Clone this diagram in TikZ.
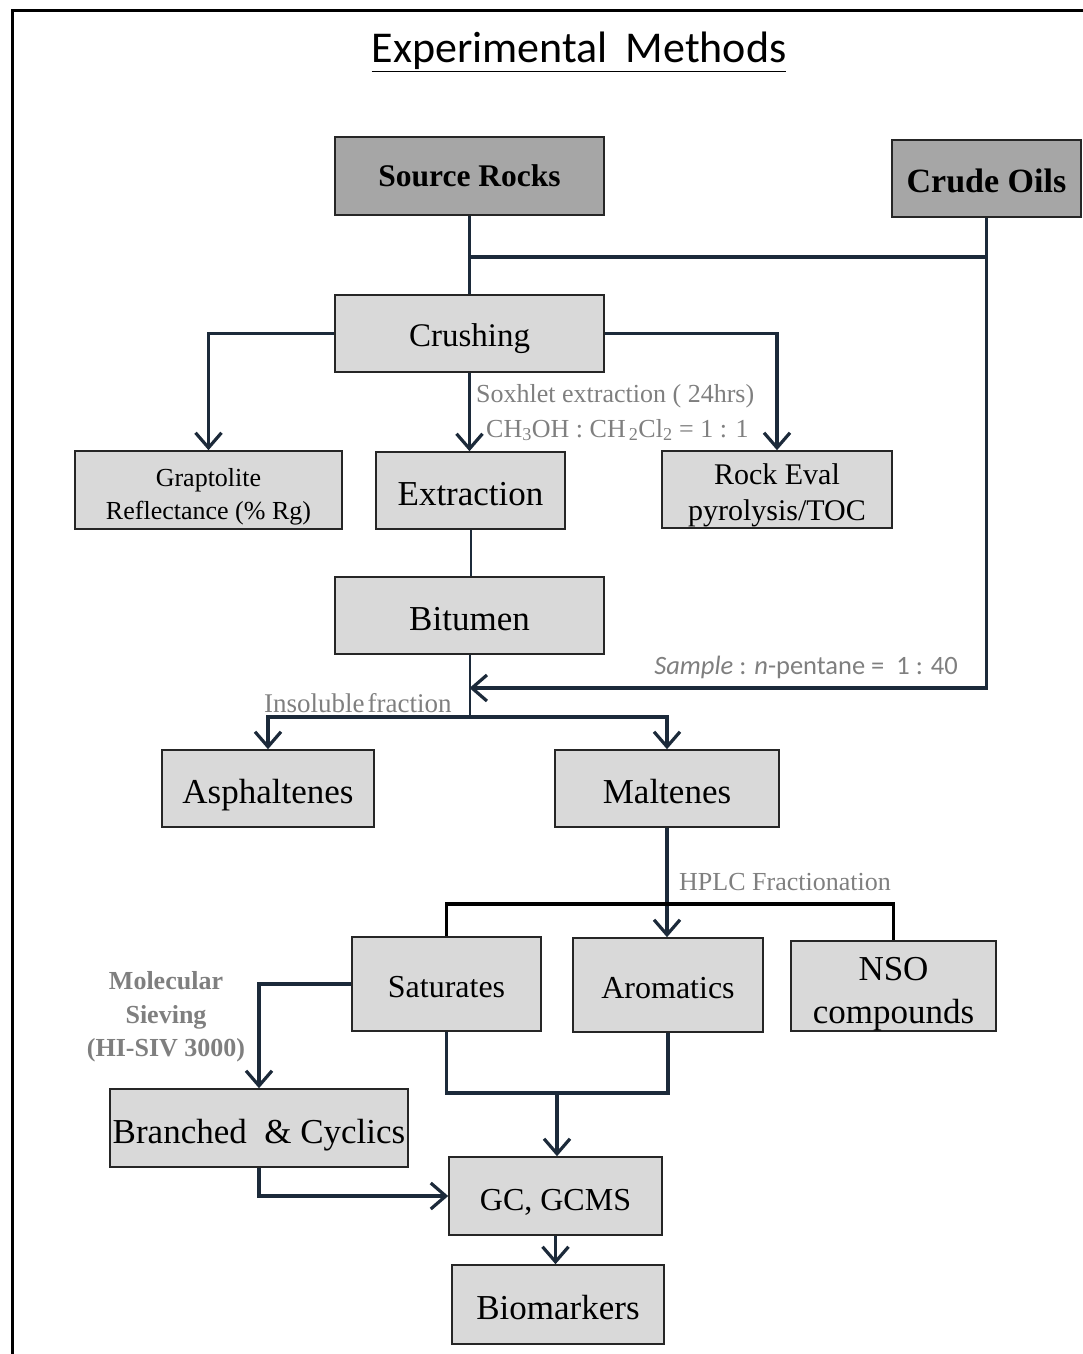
\documentclass[tikz,border=0pt]{standalone}
\usepackage{fontspec}
\setmainfont{Liberation Serif}
\newfontfamily\calibri{Carlito}
\usepackage{tikz}
\usetikzlibrary{arrows.meta}

\definecolor{arrowblue}{HTML}{1C2A3A}
\definecolor{darkbox}{HTML}{A6A6A6}
\definecolor{lightbox}{HTML}{D9D9D9}
\definecolor{notegray}{HTML}{7F7F7F}

% lower a multi-line label inside its box
\newcommand{\lowered}[2]{\raisebox{-#1}[\height][\depth]{\begin{tabular}{@{}c@{}}#2\end{tabular}}}

\begin{document}
\begin{tikzpicture}[x=1pt, y=-1pt]
\tikzstyle{box}=[rectangle, draw=black!85, line width=1.6pt, fill=lightbox, inner sep=2pt, text height=30pt, text depth=0pt, font=\fontsize{35}{40}\selectfont]
\tikzstyle{smallbox}=[box, text height=27pt, font=\fontsize{32}{40}\selectfont]
\tikzstyle{twoline}=[rectangle, draw=black!85, line width=1.6pt, fill=lightbox, inner sep=2pt]
\tikzstyle{source}=[box, fill=darkbox, text height=21pt, font=\fontsize{31.5}{36}\selectfont\bfseries]
\tikzstyle{connect}=[-{Straight Barb[length=15pt, width=26pt]}, line width=3.2pt, draw=arrowblue]
\tikzstyle{link}=[line width=3.2pt, draw=arrowblue]
\tikzstyle{note}=[text=notegray, inner sep=0pt, font=\fontsize{26}{33}\selectfont]
\useasboundingbox (0,0) rectangle (1083,1354);
\draw[line width=3pt] (12,1354) -- (12,11) -- (1083,11);
\node[font=\calibri\fontsize{44}{50}\selectfont] (Title) at (579,52) {\underline{Experimental\hspace{18pt}Methods}};
% source boxes
\node[source, minimum width=269, minimum height=78] (SourceRocks) at (469.5,176) {Source Rocks};
\node[source, minimum width=189, minimum height=77, text height=27.5pt, font=\fontsize{34}{40}\selectfont\bfseries] (CrudeOils) at (986.5,178.5) {Crude Oils};
% processing boxes
\node[box, minimum width=269, minimum height=77, text height=26pt, font=\fontsize{33}{40}\selectfont] (Crushing) at (469.5,333.5) {Crushing};
\node[twoline, minimum width=267, minimum height=78, font=\fontsize{26}{33}\selectfont] (Graptolite) at (208.5,490) {\lowered{6pt}{Graptolite\\Reflectance (\% Rg)}};
\node[box, minimum width=189, minimum height=77] (Extraction) at (470.5,490.5) {Extraction};
\node[twoline, minimum width=230, minimum height=77, font=\fontsize{30}{36}\selectfont] (RockEval) at (777,489.5) {\lowered{6pt}{Rock Eval\\pyrolysis/TOC}};
\node[box, minimum width=269, minimum height=77] (Bitumen) at (469.5,615.5) {Bitumen};
\node[box, minimum width=212, minimum height=77] (Asphaltenes) at (268,788.5) {Asphaltenes};
\node[box, minimum width=224, minimum height=77] (Maltenes) at (667,788.5) {Maltenes};
\node[smallbox, minimum width=189, minimum height=94] (Saturates) at (446.5,984) {Saturates};
\node[smallbox, minimum width=190, minimum height=94] (Aromatics) at (668,985) {Aromatics};
\node[twoline, minimum width=205, minimum height=90, font=\fontsize{35}{43}\selectfont] (NSO) at (893.5,986) {\lowered{7pt}{NSO\\compounds}};
\node[box, minimum width=298, minimum height=78] (Branched) at (259,1128) {Branched \ \& Cyclics};
\node[smallbox, minimum width=213, minimum height=78, text height=28pt] (GCMS) at (555.5,1196) {GC, GCMS};
\node[box, minimum width=212, minimum height=79] (Biomarkers) at (558,1304.5) {Biomarkers};
% junction points
\coordinate (Join) at (469.5,257);
\coordinate (MixPt) at (469.5,688);
\coordinate (Split) at (469.5,717);
\coordinate (HplcBar) at (667,904);
\coordinate (Merge) at (557,1093);
% notes
\node[note, anchor=west] (Soxhlet) at (476,396) {Soxhlet extraction ( 24hrs)};
\node[note, anchor=west] (Solvent) at (486,430) {CH\textsubscript{3}OH : CH\textsubscript{\,2}Cl\textsubscript{2} = 1 : 1};
\node[note, anchor=east, font=\calibri\fontsize{26.5}{30}\selectfont] (Ratio) at (958,667) {\textit{Sample} : \textit{n}-pentane = \ 1 : 40};
\node[note, anchor=west, font=\fontsize{27}{33}\selectfont] (Insoluble) at (264,703) {Insoluble\hspace{3pt}fraction};
\node[note, anchor=west] (Hplc) at (679,882) {HPLC Fractionation};
\node[note, align=center, font=\fontsize{26}{33.5}\selectfont\bfseries] (Sieving) at (166,1017) {Molecular\\Sieving\\(HI-SIV 3000)};
% connectors
\draw[link] (SourceRocks.south) -- (Crushing.north);
\draw[link] (Join) -- (Join -| CrudeOils.south);
\draw[connect] (CrudeOils.south) |- (MixPt);
\draw[connect] (Crushing.west) -| (Graptolite.north);
\draw[connect] (Crushing.east) -| (RockEval.north);
\draw[connect] (Crushing.south) -- (Crushing.south |- Extraction.north);
\draw[link, line width=2pt] (Extraction.south) -- (Extraction.south |- Bitumen.north);
\draw[link, line width=2pt] (Bitumen.south) -- (Split);
\draw[connect] (Split) -| (Asphaltenes.north);
\draw[connect] (Split) -| (Maltenes.north);
\draw[connect] (Maltenes.south) -- (Maltenes.south |- Aromatics.north);
\draw[link, draw=black] (Saturates.north) |- (HplcBar -| NSO.north) -- (NSO.north);
\draw[connect] (Saturates.west) -| (Branched.north);
\draw[link] (Saturates.south) |- (Aromatics.south |- Merge) -- (Aromatics.south);
\draw[connect] (Merge) -- (Merge |- GCMS.north);
\draw[connect] (Branched.south) |- (GCMS.west);
\draw[connect] (GCMS.south) -- (GCMS.south |- Biomarkers.north);
\end{tikzpicture}
\end{document}
